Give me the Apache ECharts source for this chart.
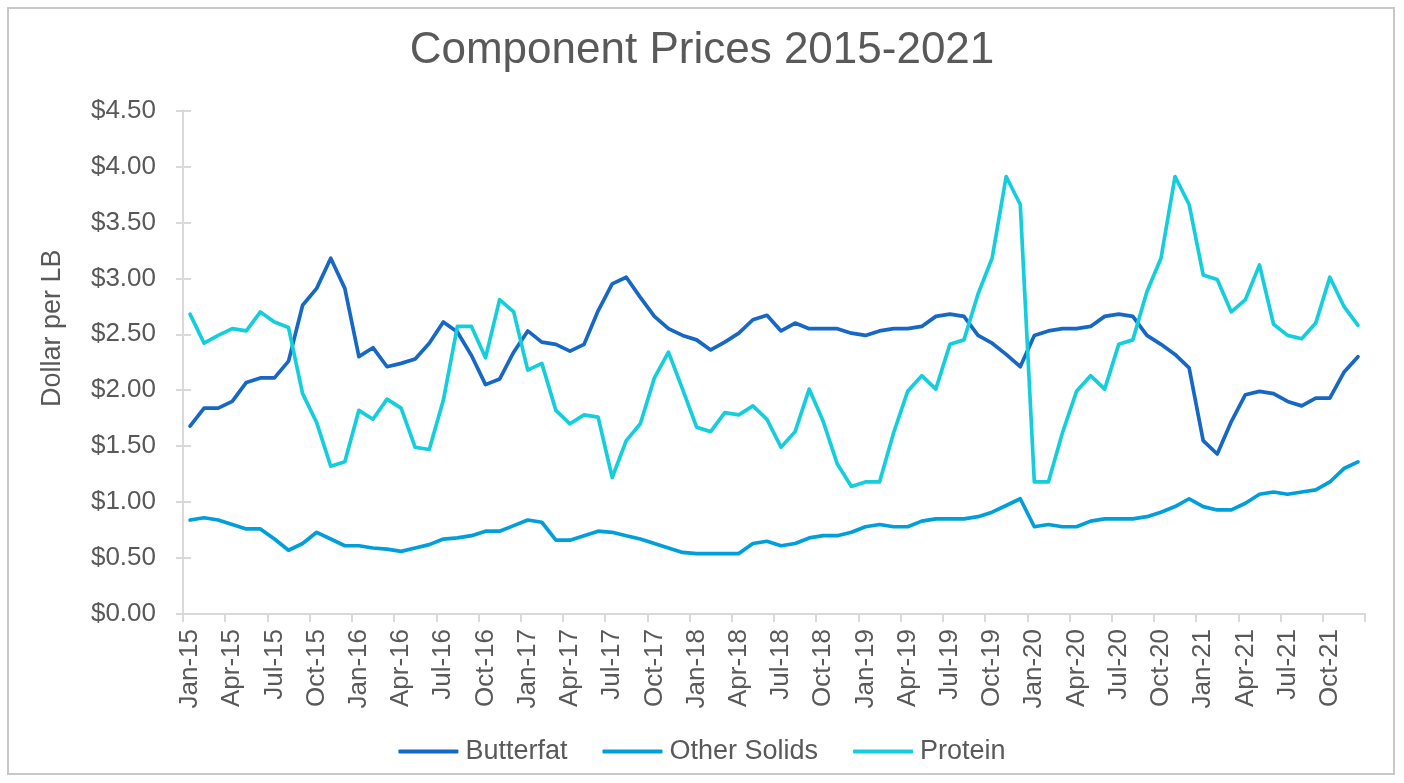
<!DOCTYPE html>
<html>
<head>
<meta charset="utf-8">
<script src="https://cdn.jsdelivr.net/npm/echarts@6/dist/echarts.min.js"></script>
<style>
html,body{margin:0;padding:0;background:#fff;}
#frame{position:absolute;left:7px;top:7px;width:1388px;height:768px;border:2px solid #c8c8c8;box-sizing:border-box;}
#chart{position:absolute;left:0;top:0;width:1404px;height:783px;}
</style>
</head>
<body>
<div id="frame"></div>
<div id="chart"></div>
<script>
const monthNames = ['Jan','Feb','Mar','Apr','May','Jun','Jul','Aug','Sep','Oct','Nov','Dec'];
const yearLabels = ['15','16','17','18','19','20','21'];
const categories = [];
yearLabels.forEach(y => monthNames.forEach(m => categories.push(m + '-' + y)));

const butterfat = [
  1.68,1.84,1.84,1.90,2.07,2.11,2.11,2.26,2.76,2.91,3.18,2.91,
  2.30,2.38,2.21,2.24,2.28,2.42,2.61,2.52,2.31,2.05,2.10,2.34,
  2.53,2.43,2.41,2.35,2.41,2.71,2.95,3.01,2.83,2.66,2.55,2.49,
  2.45,2.36,2.43,2.51,2.63,2.67,2.53,2.60,2.55,2.55,2.55,2.51,
  2.49,2.53,2.55,2.55,2.57,2.66,2.68,2.66,2.49,2.42,2.32,2.21,
  2.49,2.53,2.55,2.55,2.57,2.66,2.68,2.66,2.49,2.41,2.32,2.20,
  1.55,1.43,1.72,1.96,1.99,1.97,1.90,1.86,1.93,1.93,2.16,2.30
];
const otherSolids = [
  0.84,0.86,0.84,0.80,0.76,0.76,0.67,0.57,0.63,0.73,0.67,0.61,
  0.61,0.59,0.58,0.56,0.59,0.62,0.67,0.68,0.70,0.74,0.74,0.79,
  0.84,0.82,0.66,0.66,0.70,0.74,0.73,0.70,0.67,0.63,0.59,0.55,
  0.54,0.54,0.54,0.54,0.63,0.65,0.61,0.63,0.68,0.70,0.70,0.73,
  0.78,0.80,0.78,0.78,0.83,0.85,0.85,0.85,0.87,0.91,0.97,1.03,
  0.78,0.80,0.78,0.78,0.83,0.85,0.85,0.85,0.87,0.91,0.96,1.03,
  0.96,0.93,0.93,0.99,1.07,1.09,1.07,1.09,1.11,1.18,1.30,1.36
];
const protein = [
  2.68,2.42,2.49,2.55,2.53,2.70,2.61,2.56,1.97,1.71,1.32,1.36,
  1.82,1.74,1.92,1.84,1.49,1.47,1.91,2.57,2.57,2.29,2.81,2.70,
  2.18,2.24,1.82,1.70,1.78,1.76,1.22,1.55,1.70,2.11,2.34,2.01,
  1.67,1.63,1.80,1.78,1.86,1.74,1.49,1.63,2.01,1.72,1.34,1.14,
  1.18,1.18,1.62,1.99,2.13,2.01,2.41,2.45,2.86,3.18,3.91,3.66,
  1.18,1.18,1.62,1.99,2.13,2.01,2.41,2.45,2.88,3.18,3.91,3.66,
  3.03,2.99,2.70,2.81,3.12,2.59,2.49,2.46,2.60,3.01,2.75,2.58
];
const seriesNames = ['Butterfat','Other Solids','Protein'];
const seriesColors = ['#1668c4','#009edb','#14cfdb'];

const FONT = '"Liberation Sans", Arial, sans-serif';
const TXT = '#595959';
const AX = '#d9d9d9';

const chart = echarts.init(document.getElementById('chart'), null, {renderer:'canvas'});
const mk = (name, data, color) => ({
  name, type:'line', data, symbol:'none', smooth:false,
  lineStyle:{color, width:3.7, cap:'round', join:'round'},
  itemStyle:{color}, z:3
});
chart.setOption({
  animation:false,
  backgroundColor:'transparent',
  title:{
    text:'Component Prices 2015-2021', left:'center', top:24,
    textStyle:{fontFamily:FONT, fontSize:44, fontWeight:'normal', color:TXT}
  },
  legend:{
    data:seriesNames, bottom:13, left:'center',
    icon:'roundRect', itemWidth:60, itemHeight:4, itemGap:35,
    textStyle:{fontFamily:FONT, fontSize:27, color:TXT, padding:[0,0,0,2]}
  },
  grid:{left:183, right:39, top:110.5, bottom:169, containLabel:false},
  xAxis:{
    type:'category', data:categories, boundaryGap:true,
    axisLine:{lineStyle:{color:AX, width:2}},
    axisTick:{show:true, interval:2, length:8, lineStyle:{color:AX, width:2}},
    axisLabel:{interval:2, rotate:90, margin:15, fontFamily:FONT, fontSize:26, color:TXT},
    splitLine:{show:false}
  },
  yAxis:[{
    type:'value', min:0, max:4.5, interval:0.5,
    name:'Dollar per LB', nameLocation:'middle', nameGap:117, nameRotate:90,
    nameTextStyle:{fontFamily:FONT, fontSize:27, color:TXT, padding:[0,0,0,68]},
    axisLine:{show:true, lineStyle:{color:AX, width:2}},
    axisTick:{show:true, length:7, lineStyle:{color:AX, width:2}},
    axisLabel:{margin:27, fontFamily:FONT, fontSize:26, color:TXT,
      formatter:v => '$' + v.toFixed(2)},
    splitLine:{show:false}
  },{
    type:'value', min:0, max:4.5, interval:0.5, position:'left',
    axisLine:{show:false},
    axisTick:{show:true, inside:true, length:8, lineStyle:{color:AX, width:2}},
    axisLabel:{show:false}, splitLine:{show:false}
  }],
  series:[
    mk(seriesNames[0], butterfat, seriesColors[0]),
    mk(seriesNames[1], otherSolids, seriesColors[1]),
    mk(seriesNames[2], protein, seriesColors[2])
  ]
});
</script>
</body>
</html>
